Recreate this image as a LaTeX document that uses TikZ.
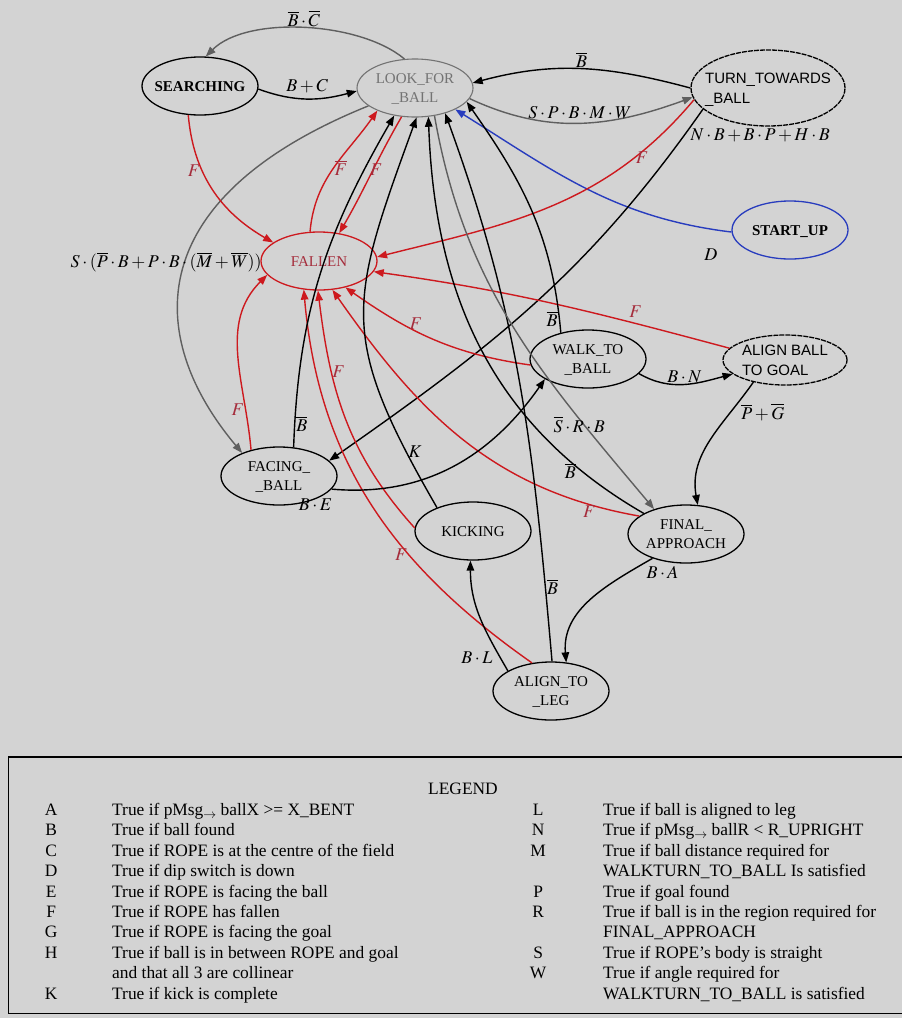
\documentclass[tikz,border=0pt]{standalone}
\usepackage{mathptmx}
\usepackage{fontspec}
\setmainfont{Liberation Serif}
\newfontfamily\sansfont{Liberation Sans}
\usepackage{array}
\usetikzlibrary{shapes.geometric, arrows.meta}

\definecolor{bggray}{RGB}{211,211,211}
\definecolor{edgered}{RGB}{205,25,30}
\definecolor{labred}{RGB}{165,45,60}
\definecolor{edgegray}{RGB}{95,95,95}
\definecolor{lookgray}{RGB}{115,115,115}
\definecolor{edgeblue}{RGB}{40,60,190}

% state text: takes no room, so the ellipse keeps its given size
\newcommand{\stext}[2][c]{\raisebox{-5pt}[0pt][0pt]{\makebox[0pt]{\begin{tabular}{@{}#1@{}}#2\end{tabular}}}}
\newcommand{\msgarrow}{\raisebox{-0.35ex}{$\scriptstyle\rightarrow$}}

\begin{document}
\begin{tikzpicture}[x=1pt, y=1pt,
    every node/.style={font=\fontsize{15}{19}\selectfont},
    state/.style={ellipse, draw=black, line width=1.3pt, minimum width=116pt, minimum height=58pt, inner sep=0pt},
    sansstate/.style={state, dash pattern=on 5pt off 1pt, font=\sansfont\fontsize{15}{20}\selectfont},
    arrow/.style={-{Triangle[length=10pt,width=7.5pt]}, line width=1.4pt},
    redarrow/.style={arrow, draw=edgered},
    grayarrow/.style={arrow, draw=edgegray},
    bluearrow/.style={arrow, draw=edgeblue},
    cond/.style={inner sep=1pt, font=\fontsize{18}{20}\selectfont},
    redcond/.style={cond, text=labred},
    legend/.style={font=\fontsize{17.4}{20.4}\selectfont, inner sep=0pt}
]
\fill[bggray] (0,0) rectangle (902,-1018);
\useasboundingbox (0,0) rectangle (902,-1018);

% States
\node[state] (search) at (200,-86) {\stext{\textbf{SEARCHING}}};
\node[state, draw=lookgray, text=lookgray, line width=1.1pt] (look) at (415,-88) {\stext{LOOK\_FOR\\\_BALL}};
\node[sansstate, minimum width=154pt, minimum height=76pt] (turn) at (768,-88) {\stext[l]{TURN\_TOWARDS\\\_BALL}};
\node[state, draw=edgeblue] (start) at (790,-230) {\stext{\textbf{START\_UP}}};
\node[state, draw=edgered, text=labred] (fallen) at (319,-261) {\stext{FALLEN}};
\node[state] (walk) at (588,-359) {\stext{WALK\_TO\\\_BALL}};
\node[sansstate, minimum width=124pt, minimum height=50pt] (alignball) at (785,-360) {\stext[l]{ALIGN BALL\\TO GOAL}};
\node[state] (facing) at (279,-476) {\stext{FACING\_\\\_BALL}};
\node[state] (kicking) at (473,-531) {\stext{KICKING}};
\node[state] (final) at (686,-534) {\stext{FINAL\_\\APPROACH}};
\node[state] (alignleg) at (551,-691) {\stext{ALIGN\_TO\\\_LEG}};

% Transitions round the top
\draw[grayarrow] (look.110) to[out=140, in=45, looseness=0.75] node[above, cond] {$\overline{B}\cdot\overline{C}$} (search.79);
\draw[arrow] (search.-3) to[out=-20, in=195] node[above=4pt, cond] {$B+C$} (look.183);
\draw[arrow] (turn.180) to[out=165, in=15] node[above, cond] {$\overline{B}$} (look.5);
\draw[grayarrow] (look.-11) to[out=-25, in=200] node[above=2pt, cond] {$S\cdot P\cdot B\cdot M\cdot W$} (turn.187);
\draw[bluearrow] (start.182) to[out=173, in=-32] node[cond, pos=0.06, below=18pt] {$D$} (look.332);
\draw[grayarrow] (look.201) to[out=202, in=130, out distance=245pt, in distance=153pt] node[cond, pos=0.5, xshift=-17pt, yshift=8pt] {$S\cdot(\overline{P}\cdot B+P\cdot B\cdot(\overline{M}+\overline{W}))$} (facing.148);
\draw[arrow] (turn.198) to[out=235, in=35] node[cond, pos=0, anchor=north west, xshift=-14pt, yshift=-18pt] {$N\cdot B+B\cdot P+H\cdot B$} (facing.17);

% Falling
\draw[redarrow] (search.248) to[out=-85, in=150] node[left, redcond, pos=0.35] {$F$} (fallen.158);
\draw[redarrow] (fallen.107) to[out=85, in=235] node[right=-1pt, redcond] {$\overline{F}$} (look.211);
\draw[redarrow] (look.245) to[out=240, in=60] node[redcond, pos=0.45, xshift=3pt] {$F$} (fallen.54);
\draw[redarrow] (turn.189) to[out=230, in=14] node[right, redcond, pos=0.22] {$F$} (fallen.4);
\draw[redarrow] (alignball.168) to[out=165, in=-8] node[redcond, pos=0.25, above=4pt] {$F$} (fallen.-11);
\draw[redarrow] (walk.186) to[out=172, in=-35] node[redcond, pos=0.6, above] {$F$} (fallen.-45);
\draw[redarrow] (facing.137) to[out=95, in=225] node[redcond, pos=0.2, left] {$F$} (fallen.195);
\draw[redarrow] (alignleg.124) to[out=145, in=-85] node[redcond, pos=0.35, left] {$F$} (fallen.242);
\draw[redarrow] (kicking.177) to[out=132, in=-83] node[redcond, pos=0.7, right=-1pt] {$F$} (fallen.268);
\draw[redarrow] (final.159) to[out=170, in=-55] node[redcond, pos=0.12, below] {$F$} (fallen.-65);

% Ball lost
\draw[arrow] (facing.63) to[out=88, in=240] node[cond, pos=0.06, right] {$\overline{B}$} (look.233);
\draw[arrow] (kicking.147) to[out=120, in=250, looseness=1.3] node[cond, pos=0.12, right=1pt] {$K$} (look.273);
\draw[arrow] (alignleg.88) to[out=95, in=-70] node[cond, pos=0.12, right] {$\overline{B}$} (look.320);
\draw[arrow] (walk.136) to[out=95, in=-55] node[cond, pos=0.05, left] {$\overline{B}$} (look.345);
\draw[arrow] (final.154) to[out=150, in=-88] node[cond, pos=0.18, below] {$\overline{B}$} (look.295);
\draw[grayarrow] (look.305) to[out=-80, in=130] node[cond, pos=0.76, yshift=-6pt] {$\overline{S}\cdot R\cdot B$} (final.142);

% Approach
\draw[arrow] (facing.-14) to[out=-5, in=235] node[cond, pos=0, anchor=north, xshift=-16pt, yshift=-8pt] {$B\cdot E$} (walk.205);
\draw[arrow] (walk.-16) to[out=-30, in=195] node[cond, above] {$B\cdot N$} (alignball.195);
\draw[arrow] (alignball.215) to[out=235, in=100] node[cond, pos=0.25, right=9pt] {$\overline{P}+\overline{G}$} (final.68);
\draw[arrow] (final.216) to[out=210, in=95] node[cond, pos=0, anchor=north, xshift=10pt, yshift=-6pt] {$B\cdot A$} (alignleg.62);
\draw[arrow] (alignleg.155) to[out=120, in=-90] node[cond, pos=0.12, left=6pt] {$B\cdot L$} (kicking.265);

% Legend
\draw[line width=1pt] (8,-1013) rectangle (910,-757);
\draw[line width=2.5pt] (8,-757) -- (902,-757);
\node[legend] (legtitle) at (463,-789) {LEGEND};
\node[legend, anchor=north west] (legleft) at (40,-801) {\begin{tabular}{@{}wc{22pt}@{\hspace{50pt}}l@{}}
A & True if pMsg\msgarrow{} ballX >= X\_BENT\\
B & True if ball found\\
C & True if ROPE is at the centre of the field\\
D & True if dip switch is down\\
E & True if ROPE is facing the ball\\
F & True if ROPE has fallen\\
G & True if ROPE is facing the goal\\
H & True if ball is in between ROPE and goal\\
  & and that all 3 are collinear\\
K & True if kick is complete
\end{tabular}};
\node[legend, anchor=north west] (legright) at (527,-801) {\begin{tabular}{@{}wc{22pt}@{\hspace{54pt}}l@{}}
L & True if ball is aligned to leg\\
N & True if pMsg\msgarrow{} ballR < R\_UPRIGHT\\
M & True if ball distance required for\\
  & WALKTURN\_TO\_BALL Is satisfied\\
P & True if goal found\\
R & True if ball is in the region required for\\
  & FINAL\_APPROACH\\
S & True if ROPE’s body is straight\\
W & True if angle required for\\
  & WALKTURN\_TO\_BALL is satisfied
\end{tabular}};
\end{tikzpicture}
\end{document}
